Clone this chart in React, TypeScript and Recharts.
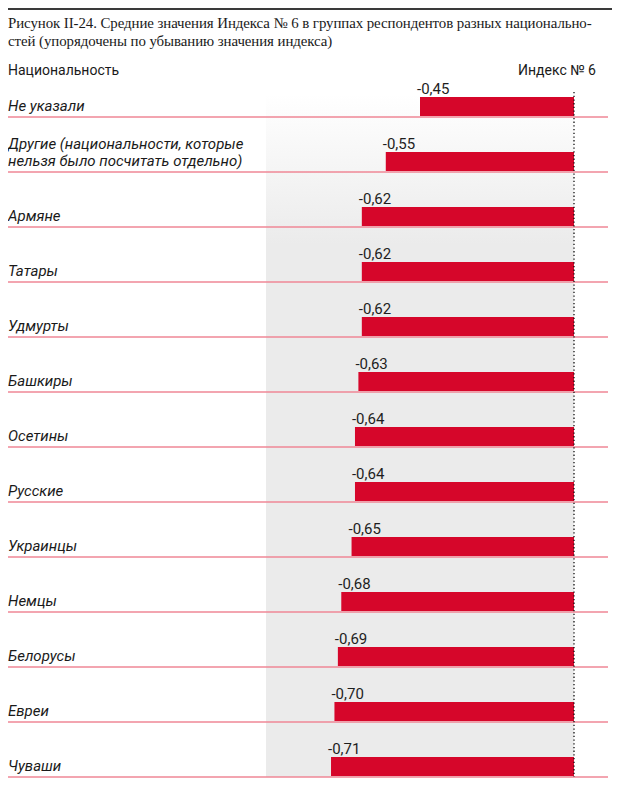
import React from 'react';
import { BarChart, Bar, XAxis, YAxis, ReferenceArea, ReferenceLine } from 'recharts';

const titleLines = [
  'Рисунок II-24. Средние значения Индекса № 6 в группах респондентов разных национально-',
  'стей (упорядочены по убыванию значения индекса)',
];
const categoryHeader = 'Национальность';
const valueHeader = 'Индекс № 6';

const nationalities = [
  'Не указали',
  'Другие (национальности, которые\nнельзя было посчитать отдельно)',
  'Армяне',
  'Татары',
  'Удмурты',
  'Башкиры',
  'Осетины',
  'Русские',
  'Украинцы',
  'Немцы',
  'Белорусы',
  'Евреи',
  'Чуваши',
];
const index6Values = [-0.45, -0.55, -0.62, -0.62, -0.62, -0.63, -0.64, -0.64, -0.65, -0.68, -0.69, -0.7, -0.71];
const xDomain = [-0.9, 0];

const data = nationalities.map((name, i) => ({ name, value: index6Values[i] }));

const SANS = 'Roboto, "Noto Sans", sans-serif';
const SERIF = '"Liberation Serif", "DejaVu Serif", serif';
const BAR_H = 19;
const RED = '#d6062a';
const PINK = '#ef8796';
const W = 604;
const H = 773;
const MARGIN = { top: 54, right: 38, bottom: 4, left: 0 };
const Y_AXIS_W = 258;

const fmt = (v: number) => v.toFixed(2).replace('.', ',');

function RowShape(props: any) {
  const { x, y, width, height, payload } = props;
  const left = Math.min(x, x + width);
  const w = Math.abs(width);
  const bottom = y + height;
  const barTop = bottom - 1 - BAR_H;
  return (
    <g>
      <line x1={0} x2={W - 4} y1={bottom} y2={bottom} stroke={PINK} strokeWidth={1.6} />
      <rect x={left} y={barTop} width={w} height={BAR_H} fill={RED} />
      <text x={left - 3} y={barTop - 3} fontSize={15} fontFamily={SANS} fill="#1e1e1e">
        {fmt(payload.value)}
      </text>
    </g>
  );
}

function CategoryTick(props: any) {
  const { y, payload } = props;
  const lines = String(payload.value).split('\n');
  const band = (H - MARGIN.top - MARGIN.bottom) / nationalities.length;
  const lastBase = y + band / 2 - 6;
  return (
    <text fontSize={15} fontStyle="italic" fontFamily={SANS} fill="#1a1a1a">
      {lines.map((ln, i) => (
        <tspan key={i} x={0} y={lastBase - (lines.length - 1 - i) * 17}>
          {ln}
        </tspan>
      ))}
    </text>
  );
}

function BandShape(props: any) {
  const { x, y, width, height } = props;
  const band = height / nationalities.length;
  const top = y + band - BAR_H - 4;
  return (
    <g>
      <defs>
        <linearGradient id="grayFade" x1="0" y1="0" x2="0" y2="1">
          <stop offset="0" stopColor="#ffffff" />
          <stop offset="0.22" stopColor="#ebebeb" />
          <stop offset="1" stopColor="#ebebeb" />
        </linearGradient>
      </defs>
      <rect x={x} y={top} width={width} height={y + height - top} fill="url(#grayFade)" />
    </g>
  );
}

function ZeroLine(props: any) {
  const { x1, y1, x2, y2 } = props;
  const yTop = Math.min(y1, y2);
  const yBottom = Math.max(y1, y2);
  const band = (yBottom - yTop) / nationalities.length;
  const top = yTop + band - BAR_H - 6;
  return (
    <line x1={x1} x2={x2} y1={top} y2={yBottom} stroke="#111" strokeWidth={1.3} strokeDasharray="1.3 2.4" />
  );
}

export default function App() {
  return (
    <div style={{ position: 'relative', width: W, height: 781 }}>
      <svg width={W} height={781} style={{ position: 'absolute', left: 0, top: 0 }}>
        <line x1={0} x2={W} y1={1} y2={1} stroke="#3a3a3a" strokeWidth={2} />
        {titleLines.map((t, i) => (
          <text
            key={i}
            x={0}
            y={20 + i * 18}
            fontSize={14.9}
            letterSpacing={-0.08}
            fontFamily={SERIF}
            fill="#1a1a1a"
          >
            {t}
          </text>
        ))}
        <text x={0} y={67} fontSize={14} fontFamily={SANS} fill="#1a1a1a">
          {categoryHeader}
        </text>
        <text x={588} y={67} fontSize={14} fontFamily={SANS} fill="#1a1a1a" textAnchor="end">
          {valueHeader}
        </text>
      </svg>
      <div style={{ position: 'absolute', left: 0, top: 0 }}>
        <BarChart
          width={W}
          height={H}
          data={data}
          layout="vertical"
          margin={MARGIN}
          barCategoryGap={0}
          barGap={0}
        >
          <XAxis type="number" domain={xDomain} hide />
          <YAxis
            type="category"
            dataKey="name"
            width={Y_AXIS_W}
            axisLine={false}
            tickLine={false}
            interval={0}
            tick={<CategoryTick />}
          />
          <ReferenceArea x1={xDomain[0]} x2={xDomain[1]} shape={<BandShape />} ifOverflow="visible" />
          <Bar dataKey="value" isAnimationActive={false} shape={<RowShape />} />
          <ReferenceLine x={0} shape={<ZeroLine />} />
        </BarChart>
      </div>
    </div>
  );
}
